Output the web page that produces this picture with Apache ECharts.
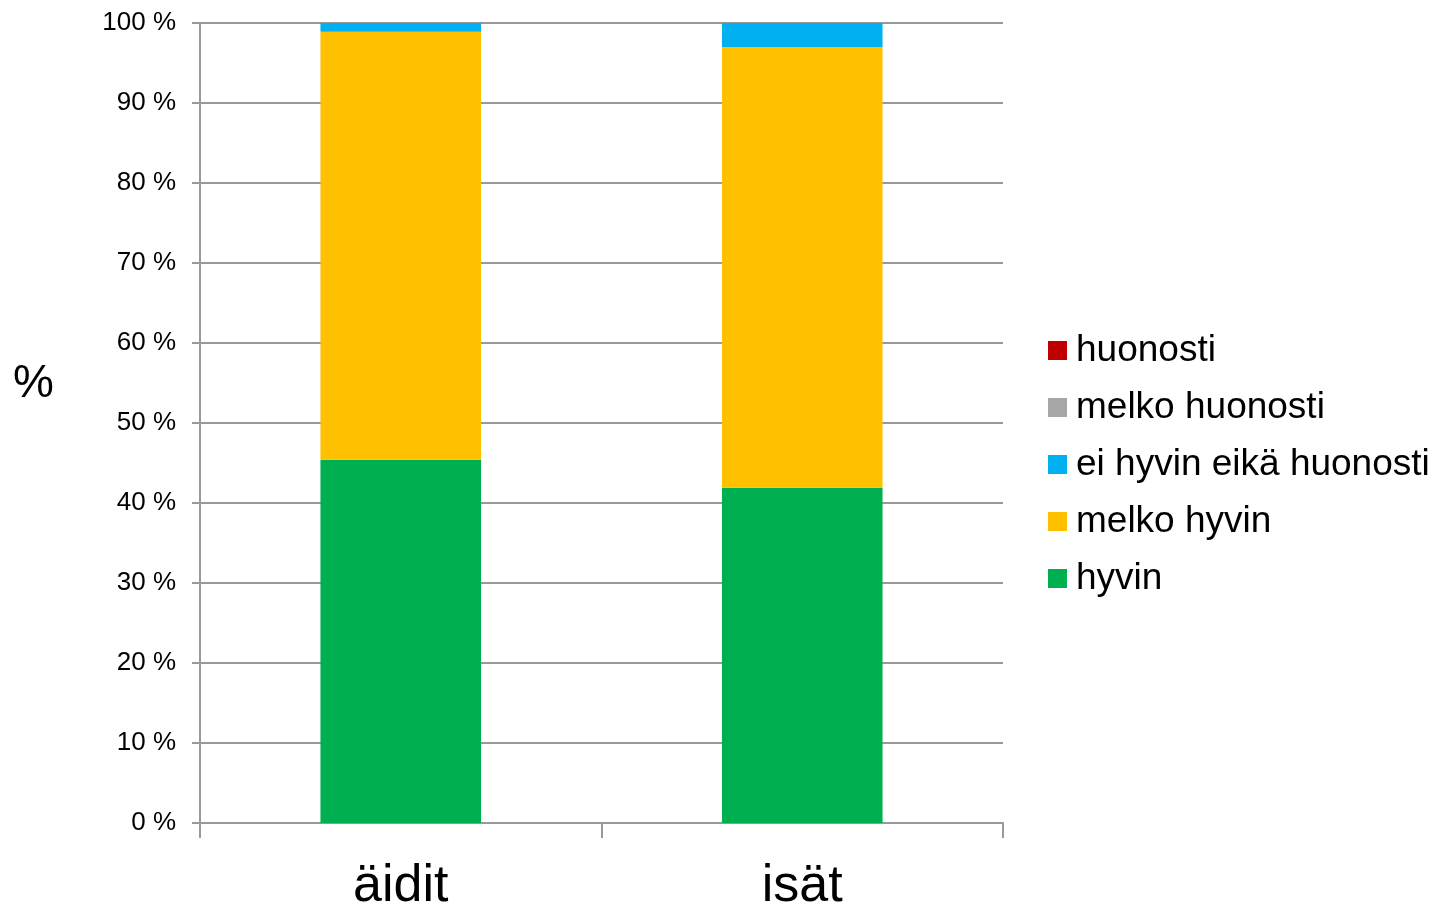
<!DOCTYPE html>
<html>
<head>
<meta charset="utf-8">
<script src="https://cdn.jsdelivr.net/npm/echarts@6/dist/echarts.min.js"></script>
<style>html,body{margin:0;padding:0;background:#fff}#c{width:1437px;height:906px}</style>
</head>
<body>
<div id="c"></div>
<script>
const categories = ['äidit', 'isät'];
const hyvin = [45.4, 41.9];
const melkoHyvin = [53.5, 55.1];
const eiHyvinEikaHuonosti = [1.1, 3.0];
const melkoHuonosti = [0, 0];
const huonosti = [0, 0];
const yTicks = [0, 10, 20, 30, 40, 50, 60, 70, 80, 90, 100];

const font = 'Liberation Sans, Arial, sans-serif';
const chart = echarts.init(document.getElementById('c'));
const mk = (name, data, color) => ({
  name, type: 'bar', stack: 'all', data, barWidth: '40%',
  itemStyle: { color }, emphasis: { disabled: true }
});
chart.setOption({
  animation: false,
  textStyle: { fontFamily: font },
  grid: { left: 200, right: 434, top: 23, bottom: 83, containLabel: false, outerBoundsMode: 'none' },
  graphic: [{ type: 'text', left: 13, top: 361, style: { text: '%', fontSize: 46, fontFamily: font, fill: '#000' } }],
  legend: {
    orient: 'vertical', left: 1043, top: 327,
    itemWidth: 19, itemHeight: 19, itemGap: 20, icon: 'rect',
    data: ['huonosti', 'melko huonosti', 'ei hyvin eikä huonosti', 'melko hyvin', 'hyvin'],
    textStyle: { fontSize: 37, lineHeight: 37, color: '#000', fontFamily: font, padding: [0, 0, 0, 4] },
    selectedMode: false
  },
  xAxis: {
    type: 'category', data: categories,
    axisLine: { lineStyle: { color: '#999', width: 2 } },
    axisTick: { show: true, length: 15, lineStyle: { color: '#999', width: 2 } },
    axisLabel: { fontSize: 52, color: '#000', margin: 38, fontFamily: font }
  },
  yAxis: {
    type: 'value', min: yTicks[0], max: yTicks[yTicks.length - 1], interval: 10,
    axisLine: { show: true, lineStyle: { color: '#999', width: 2 } },
    axisTick: { show: true, length: 8, lineStyle: { color: '#999', width: 2 } },
    splitLine: { lineStyle: { color: '#999', width: 2 } },
    axisLabel: { fontSize: 26, color: '#000', margin: 24, formatter: '{value} %', fontFamily: font }
  },
  series: [
    mk('hyvin', hyvin, '#00B050'),
    mk('melko hyvin', melkoHyvin, '#FFC000'),
    mk('ei hyvin eikä huonosti', eiHyvinEikaHuonosti, '#00B0F0'),
    mk('melko huonosti', melkoHuonosti, '#A6A6A6'),
    mk('huonosti', huonosti, '#C00000')
  ]
});
</script>
</body>
</html>
